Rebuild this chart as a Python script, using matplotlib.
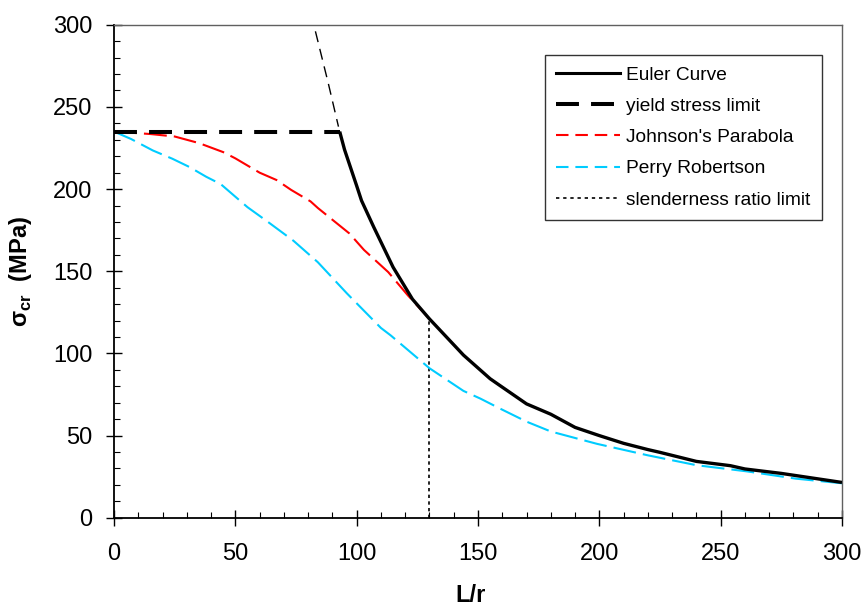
import matplotlib
matplotlib.use("Agg")
import matplotlib.pyplot as plt
from matplotlib.lines import Line2D
from matplotlib.ticker import MultipleLocator

plt.rcParams['font.family'] = ['Liberation Sans', 'DejaVu Sans']
plt.rcParams['mathtext.fontset'] = 'custom'
plt.rcParams['mathtext.rm'] = 'Liberation Sans'
plt.rcParams['mathtext.bf'] = 'Liberation Sans:bold'

# ---- data ----
euler_x = [93, 95, 100, 102, 107, 115, 123, 130, 144, 155, 159, 170, 180, 190,
           200, 210, 220, 225, 240, 254, 260, 275, 300]
euler_y = [235, 224, 202, 193, 177, 152.5, 133, 121, 99, 84.6, 80.5, 69.3, 63, 55,
           50, 45.3, 41.5, 39.8, 34.3, 31.7, 29.7, 27, 21.5]

euler_ext_x = [83, 88.3, 92.5]
euler_ext_y = [296, 264.4, 238]

yield_x = [0, 93]
yield_y = [235, 235]

johnson_x = [0, 15, 25, 35, 45, 50, 60, 67, 73, 81, 84, 97, 103, 113, 121, 130]
johnson_y = [235, 233.5, 232, 228, 222.5, 218.7, 210, 205.5, 199.5, 192.5, 188.5,
             173, 163, 149.5, 135.5, 121]

perry_x = [0, 7, 16, 24, 31, 38, 44, 55, 63, 74, 84, 96, 110, 114, 130, 144, 151,
           159, 170, 180, 199, 220, 240, 261, 281, 300]
perry_y = [235, 230.5, 223.5, 218.5, 213.5, 207.5, 203, 189, 180.5, 168.5, 155.5,
           136.5, 115.5, 111, 91, 77.2, 72.5, 66.5, 58.5, 52.5, 45, 38, 32, 28.2,
           23.8, 21]

slender_x = [130, 130]
slender_y = [0, 121]

labels = ["Euler Curve", "yield stress limit", "Johnson's Parabola",
          "Perry Robertson", "slenderness ratio limit"]

RED = '#FF0000'
CYAN = '#00CCFF'

fig = plt.figure(figsize=(8.65, 6.08), dpi=100)
ax = fig.add_axes([0.1318, 0.1484, 0.8416, 0.8109])

ax.plot(euler_ext_x, euler_ext_y, color='black', lw=1.0, dashes=(8, 5))
ax.plot(perry_x, perry_y, color=CYAN, lw=1.5, dashes=(11, 3.4), zorder=3)
ax.plot(johnson_x, johnson_y, color=RED, lw=1.5, dashes=(11, 3.4), zorder=4)
ax.plot(yield_x, yield_y, color='black', lw=2.9, dashes=(5.7, 3), zorder=5)
ax.plot(euler_x, euler_y, color='black', lw=2.4, zorder=6, solid_capstyle='butt')
ax.plot(slender_x, slender_y, color='black', lw=1.2, dashes=(2, 2), zorder=2)

ax.set_xlim(0, 300)
ax.set_ylim(0, 300)
ax.xaxis.set_major_locator(MultipleLocator(50))
ax.xaxis.set_minor_locator(MultipleLocator(10))
ax.yaxis.set_major_locator(MultipleLocator(50))
ax.yaxis.set_minor_locator(MultipleLocator(10))

ax.tick_params(which='major', direction='inout', length=11, width=1.0,
               labelsize=17, colors='black')
ax.tick_params(axis='x', which='major', pad=13)
ax.tick_params(axis='y', which='major', pad=10)
ax.tick_params(which='minor', direction='in', length=4.5, width=0.8, color='black')

for s in ['left', 'bottom']:
    ax.spines[s].set_color('black')
    ax.spines[s].set_linewidth(1.3)
for s in ['top', 'right']:
    ax.spines[s].set_color('#606060')
    ax.spines[s].set_linewidth(1.0)

ax.set_xlabel('L/r', fontsize=17, fontweight='bold', labelpad=13)
ax.xaxis.label.set_x(0.49)
ax.set_ylabel(r'σ$_{\mathbf{cr}}$  (MPa)', fontsize=17, fontweight='bold', labelpad=14)

handles = [
    Line2D([], [], color='black', lw=2.2),
    Line2D([], [], color='black', lw=2.9, dashes=(5.7, 3)),
    Line2D([], [], color=RED, lw=1.5, dashes=(6, 3.3)),
    Line2D([], [], color=CYAN, lw=1.5, dashes=(6, 3.3)),
    Line2D([], [], color='black', lw=1.2, dashes=(2, 2.3)),
]
leg = ax.legend(handles, labels, loc='upper right', bbox_to_anchor=(0.972, 0.939),
                borderaxespad=0, fontsize=13.8, frameon=True, fancybox=False,
                edgecolor='black', handlelength=3.33, handletextpad=0.31,
                labelspacing=0.72, borderpad=0.6)
leg.get_frame().set_linewidth(1.0)

fig.savefig('out.png', dpi=100)
